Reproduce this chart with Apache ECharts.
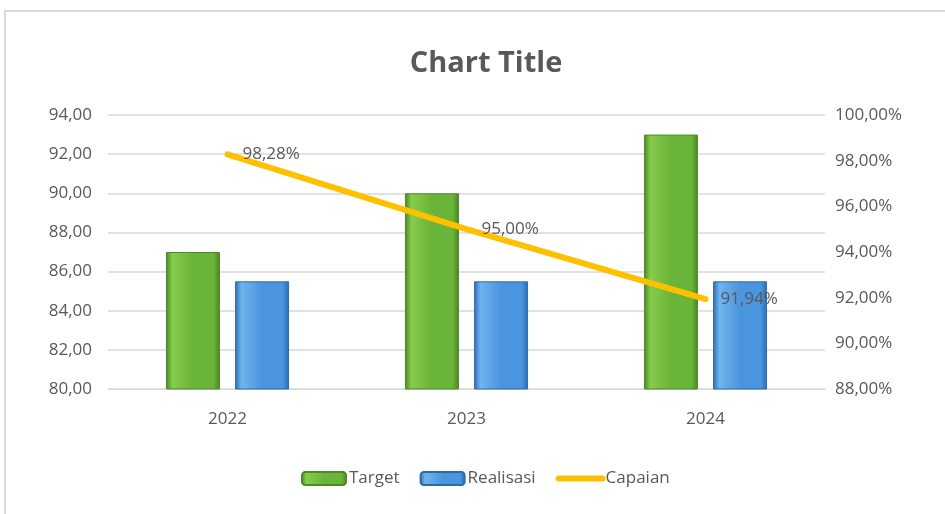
<!DOCTYPE html>
<html>
<head>
<meta charset="utf-8">
<script src="https://cdn.jsdelivr.net/npm/echarts@6/dist/echarts.min.js"></script>
<style>
    html, body { margin: 0; padding: 0; background: #fff; }
    #container { width: 945px; height: 514px; }
</style>
</head>
<body>
<div id="container"></div>
<script type="text/javascript">
    var years = ['2022', '2023', '2024'];
    var target = [87, 90, 93];
    var realisasi = [85.5, 85.5, 85.5];
    var capaian = [98.28, 95.00, 91.94];

    var font = "'Open Sans', sans-serif";
    var txt = '#595959';

    function koma(v, d) {
        return v.toFixed(d).replace('.', ',');
    }

    // bevel-ish fill for the bars
    function barFill(light, mid, dark) {
        return new echarts.graphic.LinearGradient(0, 0, 1, 0, [
            { offset: 0, color: dark },
            { offset: 0.12, color: light },
            { offset: 0.5, color: mid },
            { offset: 0.88, color: mid },
            { offset: 1, color: dark }
        ]);
    }

    var myChart = echarts.init(document.getElementById('container'));
    var option = {
        animation: false,
        backgroundColor: '#fff',
        graphic: [{
            type: 'rect',
            shape: { x: 5, y: 11, width: 960, height: 520 },
            style: { fill: 'none', stroke: '#d9d9d9', lineWidth: 2 },
            silent: true
        }],
        title: {
            text: 'Chart Title',
            left: 481,
            textAlign: 'center',
            top: 44,
            textStyle: { fontFamily: font, fontSize: 29, fontWeight: 'bold', color: txt }
        },
        legend: {
            bottom: 22,
            left: 296,
            itemWidth: 44,
            itemHeight: 13,
            itemGap: 20,
            textStyle: { fontFamily: font, fontSize: 17, color: txt, padding: [0, 0, 0, -2] },
            data: ['Target', 'Realisasi', {
                name: 'Capaian',
                itemStyle: { color: 'transparent', borderWidth: 0 },
                lineStyle: { width: 6, cap: 'round', color: '#ffc000' }
            }]
        },
        grid: { left: 108, right: 120, top: 115, bottom: 125 },
        xAxis: {
            type: 'category',
            data: years,
            axisTick: { show: false },
            axisLine: { lineStyle: { color: '#d9d9d9', width: 1 } },
            axisLabel: { fontFamily: font, fontSize: 17, color: txt, margin: 22 }
        },
        yAxis: [{
            type: 'value',
            min: 80, max: 94, interval: 2,
            axisLabel: {
                fontFamily: font, fontSize: 17, color: txt, margin: 16,
                formatter: function (v) { return koma(v, 2); }
            },
            splitLine: { lineStyle: { color: '#d9d9d9', width: 1.5 } }
        }, {
            type: 'value',
            min: 88, max: 100, interval: 2,
            axisLabel: {
                fontFamily: font, fontSize: 17, color: txt, margin: 10,
                formatter: function (v) { return koma(v, 2) + '%'; }
            },
            splitLine: { show: false }
        }],
        series: [{
            name: 'Target',
            type: 'bar',
            data: target,
            barWidth: 54,
            barGap: '28%',
            itemStyle: {
                color: barFill('#86cc4c', '#6ab43a', '#4a8424'),
                borderColor: '#4f8a2a',
                borderWidth: 1
            }
        }, {
            name: 'Realisasi',
            type: 'bar',
            data: realisasi,
            barWidth: 54,
            itemStyle: {
                color: barFill('#70b4ee', '#4a95dd', '#2d6cb0'),
                borderColor: '#2f6aa8',
                borderWidth: 1
            }
        }, {
            name: 'Capaian',
            type: 'line',
            yAxisIndex: 1,
            data: capaian,
            symbol: 'circle',
            symbolSize: 2,
            lineStyle: { color: '#ffc000', width: 6, cap: 'round' },
            itemStyle: { color: '#ffc000' },
            label: {
                show: true,
                position: 'right',
                distance: 14,
                fontFamily: font, fontSize: 17, color: txt,
                formatter: function (p) { return koma(p.value, 2) + '%'; }
            },
            z: 5
        }]
    };
    myChart.setOption(option, true);
</script>
</body>
</html>
